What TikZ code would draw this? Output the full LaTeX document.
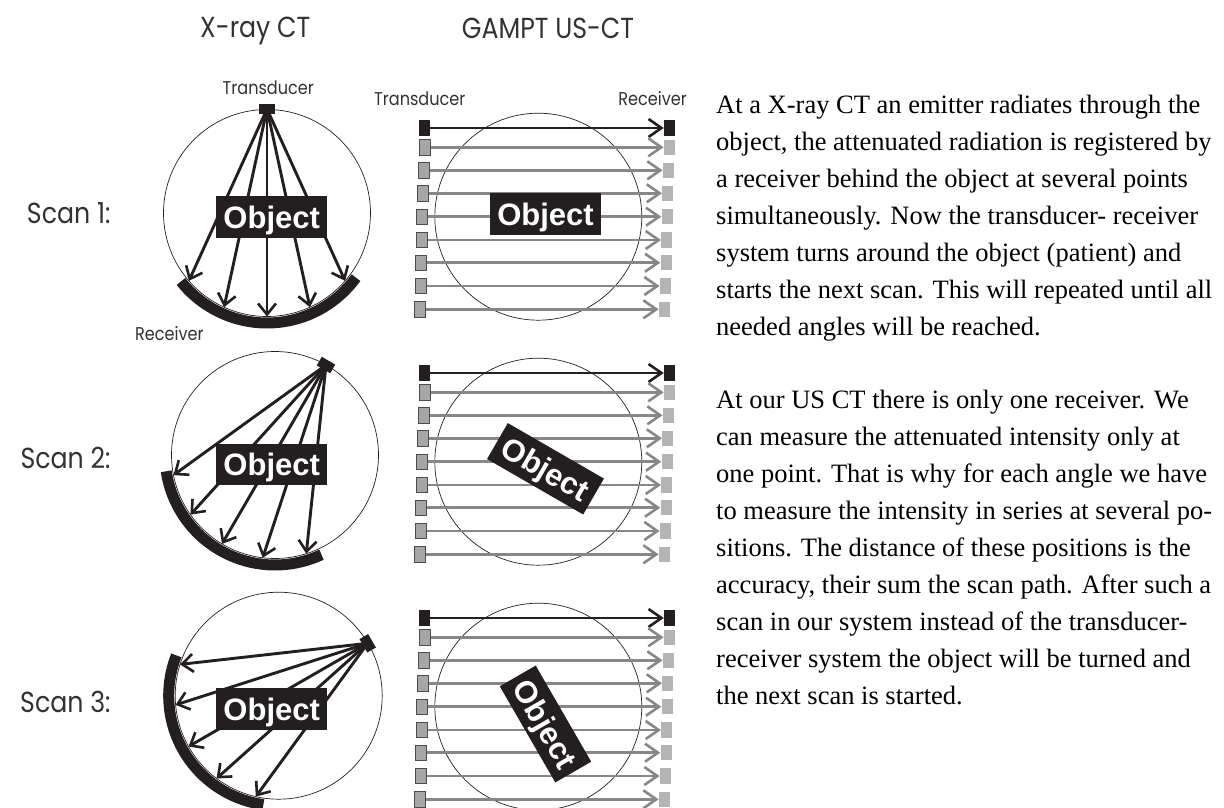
\documentclass[tikz,border=0pt]{standalone}
\usepackage{xcolor}
\usepackage{fontspec}
\setmainfont{Liberation Serif}
\setsansfont{Liberation Sans}
\newfontfamily\labelfont[FakeStretch=0.87]{Poppins}
\usetikzlibrary{arrows.meta}
\definecolor{cink}  {RGB}{35,31,32}
\definecolor{cbeam} {RGB}{135,135,135}
\definecolor{csrc}  {RGB}{166,166,166}
\definecolor{crecv} {RGB}{180,180,180}
\definecolor{clabel}{RGB}{50,50,50}
\tikzset{
  ring/.style={circle, draw=cink, line width=0.7pt, minimum size=207pt, inner sep=0pt},
  obj/.style={rectangle, fill=cink, text=white, inner sep=0pt,
              minimum width=111pt, minimum height=41.5pt,
              text height=22.3pt, text depth=0pt,
              font=\fontsize{31}{31}\selectfont\sffamily\bfseries},
  src/.style={rectangle, fill=cink, inner sep=0pt, minimum width=15.5pt, minimum height=10pt},
  recband/.style={draw=cink, line width=11pt},
  fan/.style={-{Straight Barb[length=11pt,width=18pt,line width=2.6pt]}, line width=2.9pt, color=cink},
  row/.style={-{Straight Barb[length=13pt,width=18pt,line width=2.6pt]}, line width=2.8pt, color=#1},
  sqa/.style={rectangle, inner sep=0pt, minimum width=11pt, minimum height=15.5pt, fill=csrc, draw=black!70, line width=0.8pt},
  sqb/.style={rectangle, inner sep=0pt, minimum width=11pt, minimum height=15.5pt, fill=crecv},
  sqk/.style={rectangle, inner sep=0pt, minimum width=11pt, minimum height=16pt, fill=cink},
  head/.style={inner sep=0pt, font=\fontsize{29}{29}\selectfont\labelfont, text=clabel},
  small/.style={inner sep=0pt, font=\fontsize{18.5}{18.5}\selectfont\labelfont, text=clabel},
  para/.style={anchor=north west, align=left, inner sep=0pt,
               font=\fontsize{26.5}{37}\selectfont, text=black},
}
\begin{document}
\begin{tikzpicture}[x=1pt, y=-1pt]
  \useasboundingbox (0,0) rectangle (1224,808);

  % -- Column heads and scan labels
  \node[head, anchor=base west] (hx) at (200,37.3) {X-ray CT};
  \node[head, anchor=base west] (hus) at (461.7,39) {GAMPT US-CT};
  \node[head, anchor=base east] (scanA) at (110.7,223.5) {Scan 1:};
  \node[head, anchor=base east] (scanB) at (110.7,468) {Scan 2:};
  \node[head, anchor=base east] (scanC) at (110.7,712.5) {Scan 3:};

  % -- X-ray CT fans
  \foreach \s/\cx/\cy/\oy/\tx/\ty/\rot/\arcA/\arcB/\tips in {
      1/267/213/217/267/109/0/141.5/36/{139,114.5,90,65.5,41},
      2/275/455/464.3/326/365/-30/171.5/65/{168.8,144.8,120.8,96.8,72.4},
      3/278.7/695.7/709/367.7/643.3/-60/201.5/98/{197.6,174.9,150.6,126.9,102.8}} {
    \node[ring] (xring\s) at (\cx,\cy) {};
    \draw[recband] (xring\s.center) ++(\arcA:110) arc[start angle=\arcA, end angle=\arcB, radius=110];
    \node[src, rotate=\rot] (xsrc\s) at (\tx,\ty) {};
    \foreach \a [count=\k] in \tips {
      \path (xring\s.center) ++(\a:103.5) coordinate (xtip\s-\k);
      \draw[fan] (xsrc\s.center) -- (xtip\s-\k);
    }
    \node[obj] (xobj\s) at (271.7,\oy) {Object};
  }

  % -- GAMPT US-CT rows
  \foreach \s/\off/\oy/\rot in {1/0/214.2/0, 2/245/468.8/-30, 3/490/724/-60} {
    \node[ring] (uring\s) at (538.3,216.7+\off) {};
    \node[sqk] (utop\s) at (424.5,128+\off) {};
    \node[sqk] (vtop\s) at (669.5,128+\off) {};
    \draw[row=cink] (utop\s) -- (vtop\s);
    \foreach \i/\yr/\lx/\rx in {
        1/147.3/424.7/669.3, 2/170.3/423.7/668.3, 3/193.3/422.7/667.7,
        4/216.7/421.7/667.0, 5/240.0/421.7/666.7, 6/262.7/421.0/666.0,
        7/286.0/420.7/665.3, 8/309.3/420.0/664.3} {
      \node[sqa] (ul\s-\i) at (\lx,\yr+\off) {};
      \node[sqb] (ur\s-\i) at (\rx,\yr+\off) {};
      \draw[row=cbeam] (ul\s-\i) -- (ur\s-\i);
    }
    \node[obj, rotate=\rot] (uobj\s) at (545.5,\oy) {Object};
  }

  % -- Small labels
  \node[small, anchor=base] (lbTa) at (268.3,94.3) {Transducer};
  \node[small, anchor=base west] (lbRa) at (135,340) {Receiver};
  \node[small, anchor=base west] (lbTb) at (374,106) {Transducer};
  \node[small, anchor=base east] (lbRb) at (687,106) {Receiver};

  % -- Explanatory text
  \node[para] (txtA) at (716,94.5) {At a X-ray CT an emitter radiates through the\\
    object, the attenuated radiation is registered by\\
    a receiver behind the object at several points\\
    simultaneously. Now the transducer- receiver\\
    system turns around the object (patient) and\\
    starts the next scan. This will repeated until all\\
    needed angles will be reached.};
  \node[para] (txtB) at (716,390) {At our US CT there is only one receiver. We\\
    can measure the attenuated intensity only at\\
    one point. That is why for each angle we have\\
    to measure the intensity in series at several po-\\
    sitions. The distance of these positions is the\\
    accuracy, their sum the scan path. After such a\\
    scan in our system instead of the transducer-\\
    receiver system the object will be turned and\\
    the next scan is started.};
\end{tikzpicture}
\end{document}
